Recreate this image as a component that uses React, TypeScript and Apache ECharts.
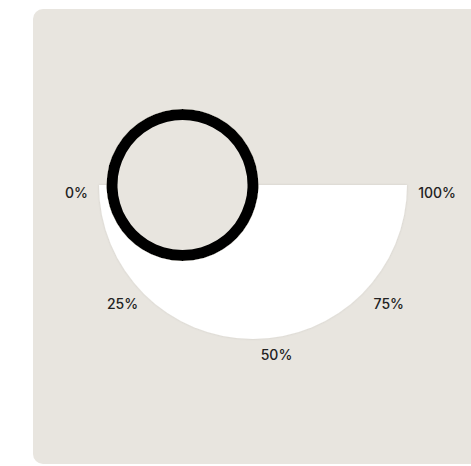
import React, { useEffect, useRef } from "react";
import * as echarts from "echarts";

const tickLabels: string[] = ["0%", "25%", "50%", "75%", "100%"];
const gaugeValues: number[] = [0];
const axisMin = 0;
const axisMax = 100;

// per-label fine offsets via rich padding [top, right, bottom, left]
const labelPads: number[][] = [
  [15, 0, 0, 27],
  [0, 0, 68, 6],
  [0, 0, 39, 47],
  [0, 1, 68, 0],
  [15, 12, 0, 0],
];

export default function App() {
  const ref = useRef<HTMLDivElement>(null);
  useEffect(() => {
    if (!ref.current) return;
    const chart = echarts.init(ref.current, undefined, { renderer: "svg" });
    const rich: Record<string, any> = {};
    labelPads.forEach((p, i) => {
      rich["l" + i] = {
        fontFamily: "Inter",
        fontSize: 14,
        fontWeight: 500,
        color: "#222222",
        padding: p,
      };
    });
    chart.setOption({
      animation: false,
      series: [
        {
          type: "gauge",
          center: [253, 185],
          radius: 154,
          startAngle: 180,
          endAngle: 360,
          clockwise: false,
          min: axisMin,
          max: axisMax,
          splitNumber: tickLabels.length - 1,
          axisLine: {
            show: true,
            lineStyle: {
              width: 154,
              color: [[1, "#ffffff"]],
              shadowBlur: 2,
              shadowColor: "rgba(0,0,0,0.12)",
            },
          },
          splitLine: { show: false, length: 0, distance: 0 },
          axisTick: { show: false },
          axisLabel: {
            show: true,
            distance: -61,
            formatter: (v: number) => {
              const i = Math.round(((v - axisMin) / (axisMax - axisMin)) * (tickLabels.length - 1));
              return "{l" + i + "|" + tickLabels[i] + "}";
            },
            rich,
          },
          pointer: {
            show: true,
            icon: "circle",
            length: 141,
            width: 141,
            offsetCenter: [0, 0],
            itemStyle: {
              color: "#e8e5df",
              borderColor: "#000000",
              borderWidth: 11,
              shadowBlur: 5,
              shadowColor: "rgba(215,212,200,0.9)",
            },
          },
          anchor: { show: false },
          title: { show: false },
          detail: { show: false },
          data: gaugeValues.map((v) => ({ value: v })),
        },
      ],
    });
    return () => chart.dispose();
  }, []);
  return (
    <div>
      <div
        style={{
          position: "fixed",
          left: 33,
          top: 9,
          width: 480,
          height: 455,
          borderRadius: 10,
          background: "#e8e5df",
        }}
      />
      <div
        ref={ref}
        style={{ position: "fixed", left: 0, top: 0, width: 471, height: 466 }}
      />
    </div>
  );
}
